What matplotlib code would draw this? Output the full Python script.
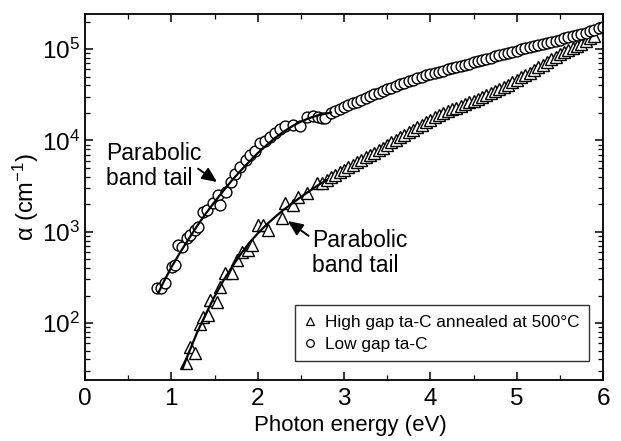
import numpy as np
import matplotlib
matplotlib.use("Agg")
import matplotlib.pyplot as plt
from matplotlib.ticker import MultipleLocator, LogLocator, NullFormatter
from matplotlib.lines import Line2D

plt.rcParams['font.family'] = ['Liberation Sans', 'DejaVu Sans']
plt.rcParams['mathtext.fontset'] = 'custom'
plt.rcParams['mathtext.rm'] = 'Liberation Sans'
plt.rcParams['mathtext.it'] = 'Liberation Sans:italic'

# ---- data (log10 of alpha in cm^-1) ----
# Low gap ta-C (circles)
low_x = [0.83, 0.88, 0.93, 1.01, 1.04, 1.08, 1.12, 1.18, 1.22, 1.27, 1.31, 1.37, 1.41,
         1.48, 1.54, 1.56, 1.63, 1.69, 1.74, 1.80, 1.87, 1.91, 1.97, 2.03, 2.09, 2.14,
         2.20, 2.26, 2.32, 2.41, 2.49, 2.57, 2.64, 2.70, 2.75, 2.78,
         2.85, 2.90, 2.95, 3.00, 3.05, 3.10, 3.15, 3.20, 3.25, 3.30, 3.35, 3.40, 3.45,
         3.50, 3.55, 3.60, 3.65, 3.70, 3.75, 3.80, 3.85, 3.90, 3.95, 4.00, 4.05, 4.10,
         4.15, 4.20, 4.25, 4.30, 4.35, 4.40, 4.45, 4.50, 4.55, 4.60, 4.65, 4.70, 4.75,
         4.80, 4.85, 4.90, 4.95, 5.00, 5.05, 5.10, 5.15, 5.20, 5.25, 5.30, 5.35, 5.40,
         5.45, 5.50, 5.55, 5.60, 5.65, 5.70, 5.75, 5.80, 5.85, 5.90, 5.95, 6.00]
low_log = [2.385, 2.38, 2.44, 2.61, 2.635, 2.85, 2.83, 2.93, 2.96, 3.02, 3.05, 3.215, 3.24,
           3.31, 3.40, 3.29, 3.43, 3.54, 3.63, 3.71, 3.79, 3.835, 3.88, 3.97, 3.99, 4.04,
           4.08, 4.12, 4.155, 4.165, 4.155, 4.26, 4.27, 4.26, 4.25, 4.24,
           4.300, 4.322, 4.343, 4.363, 4.384, 4.404, 4.424, 4.444, 4.465, 4.485, 4.504,
           4.523, 4.542, 4.561, 4.579, 4.598, 4.617, 4.633, 4.649, 4.664, 4.680, 4.695,
           4.711, 4.726, 4.739, 4.752, 4.765, 4.778, 4.790, 4.802, 4.814, 4.827, 4.840,
           4.853, 4.867, 4.880, 4.894, 4.907, 4.920, 4.933, 4.946, 4.958, 4.971, 4.984,
           4.997, 5.009, 5.021, 5.033, 5.045, 5.057, 5.068, 5.080, 5.092, 5.104, 5.116,
           5.128, 5.140, 5.152, 5.164, 5.179, 5.195, 5.211, 5.227, 5.243]

# High gap ta-C annealed at 500C (triangles)
high_x = [1.17, 1.22, 1.27, 1.33, 1.37, 1.43, 1.45, 1.53, 1.56, 1.62, 1.70, 1.76, 1.82,
          1.89, 1.93, 2.00, 2.06, 2.12, 2.28, 2.32, 2.41, 2.47, 2.57, 2.69,
          2.75, 2.80, 2.85, 2.90, 2.95, 3.00, 3.05, 3.10, 3.15, 3.20, 3.25, 3.30, 3.35,
          3.40, 3.45, 3.50, 3.55, 3.60, 3.65, 3.70, 3.75, 3.80, 3.85, 3.90, 3.95, 4.00,
          4.05, 4.10, 4.15, 4.20, 4.25, 4.30, 4.35, 4.40, 4.45, 4.50, 4.55, 4.60, 4.65,
          4.70, 4.75, 4.80, 4.85, 4.90, 4.95, 5.00, 5.05, 5.10, 5.15, 5.20, 5.25, 5.30,
          5.35, 5.40, 5.45, 5.50, 5.55, 5.60, 5.65, 5.70, 5.75, 5.80, 5.85, 5.90]
high_log = [1.565, 1.74, 1.67, 1.99, 2.07, 2.09, 2.25, 2.23, 2.39, 2.55, 2.55, 2.69, 2.78,
            2.80, 2.85, 3.07, 3.07, 3.02, 3.15, 3.31, 3.29, 3.38, 3.42, 3.53,
            3.538, 3.566, 3.595, 3.623, 3.651, 3.680, 3.708, 3.735, 3.761, 3.788, 3.814,
            3.841, 3.867, 3.894, 3.922, 3.950, 3.978, 4.006, 4.034, 4.062, 4.091, 4.118,
            4.145, 4.172, 4.199, 4.227, 4.254, 4.282, 4.303, 4.322, 4.341, 4.359, 4.378,
            4.397, 4.416, 4.436, 4.456, 4.477, 4.497, 4.517, 4.538, 4.558, 4.583, 4.610,
            4.637, 4.663, 4.690, 4.716, 4.743, 4.771, 4.800, 4.829, 4.858, 4.887, 4.916,
            4.945, 4.968, 4.991, 5.014, 5.036, 5.060, 5.090, 5.120, 5.140]

# Parabolic band tail fit lines
fit_low_x = [0.85, 0.90, 1.00, 1.10, 1.20, 1.30, 1.40, 1.50, 1.60, 1.70, 1.80, 1.90,
             2.00, 2.10, 2.20, 2.30, 2.40, 2.50, 2.60, 2.70, 2.80, 2.85]
fit_low_log = [2.33, 2.43, 2.61, 2.77, 2.92, 3.065, 3.20, 3.325, 3.445, 3.56, 3.665, 3.765,
               3.86, 3.945, 4.025, 4.095, 4.155, 4.205, 4.245, 4.275, 4.295, 4.305]
fit_high_x = [1.13, 1.20, 1.30, 1.40, 1.50, 1.60, 1.70, 1.80, 1.90, 2.00, 2.10, 2.20,
              2.30, 2.40, 2.50, 2.60, 2.70, 2.80]
fit_high_log = [1.50, 1.67, 1.90, 2.10, 2.29, 2.46, 2.61, 2.75, 2.875, 2.98, 3.075, 3.16,
                3.24, 3.31, 3.38, 3.445, 3.51, 3.565]

low_y = 10 ** np.array(low_log)
high_y = 10 ** np.array(high_log)
fit_low_y = 10 ** np.array(fit_low_log)
fit_high_y = 10 ** np.array(fit_high_log)

fig = plt.figure(figsize=(6.21, 4.41), dpi=100)
ax = fig.add_axes([85/621, 1 - 380/441, 518/621, 366/441])

ax.plot(high_x, high_y, linestyle='none', marker='^', ms=8.5, mfc='white', mec='black',
        mew=1.0, zorder=2)
ax.plot(low_x, low_y, linestyle='none', marker='o', ms=7.8, mfc='white', mec='black',
        mew=1.0, zorder=2)
ax.plot(fit_low_x, fit_low_y, color='black', lw=1.6, zorder=3)
ax.plot(fit_high_x, fit_high_y, color='black', lw=1.6, zorder=3)

ax.set_yscale('log')
ax.set_xlim(0, 6)
ax.set_ylim(23.8, 2.42e5)
ax.xaxis.set_major_locator(MultipleLocator(1))
ax.xaxis.set_minor_locator(MultipleLocator(0.5))
ax.yaxis.set_major_locator(LogLocator(base=10, numticks=10))
ax.yaxis.set_minor_locator(LogLocator(base=10, subs=np.arange(2, 10), numticks=20))
ax.yaxis.set_minor_formatter(NullFormatter())

ax.tick_params(which='both', direction='in', top=True, right=True, labelsize=17.5)
ax.tick_params(which='major', length=6, width=1.1)
ax.tick_params(which='minor', length=3.5, width=0.9)
ax.tick_params(axis='x', pad=6)
for s in ax.spines.values():
    s.set_linewidth(1.3)

ax.set_xlabel('Photon energy (eV)', fontsize=16, labelpad=3)
ax.xaxis.label.set_x((350 - 85) / 518)
ax.set_ylabel(r'α (cm$^{\mathregular{-1}}$)', fontsize=17, labelpad=1)

arrow = dict(arrowstyle='-|>,head_length=0.9,head_width=0.4', color='black', lw=1.4,
             shrinkA=0, shrinkB=0)
ax.annotate('', xy=(1.53, 10**3.544), xytext=(1.31, 10**3.69), arrowprops=arrow)
ax.text(0.243, 10**3.72, 'Parabolic\nband tail', fontsize=16.5, ha='left', va='center',
        linespacing=1.1)
ax.annotate('', xy=(2.35, 10**3.117), xytext=(2.59, 10**2.955), arrowprops=arrow)
ax.text(2.63, 10**2.766, 'Parabolic\nband tail', fontsize=16.5, ha='left', va='center',
        linespacing=1.1)

handles = [Line2D([], [], linestyle='none', marker='^', ms=6, mfc='white', mec='black', mew=0.9),
           Line2D([], [], linestyle='none', marker='o', ms=5.5, mfc='white', mec='black', mew=0.9)]
leg = ax.legend(handles, ['High gap ta-C annealed at 500°C', 'Low gap ta-C'],
                loc='lower right', bbox_to_anchor=((589-85)/518, (380-361)/366),
                fontsize=12.4, frameon=True, fancybox=False, edgecolor='black',
                handlelength=0.7, handletextpad=0.5, borderpad=0.55, labelspacing=0.4,
                borderaxespad=0)
leg.get_frame().set_linewidth(1.0)

fig.savefig('out.png', dpi=100)
